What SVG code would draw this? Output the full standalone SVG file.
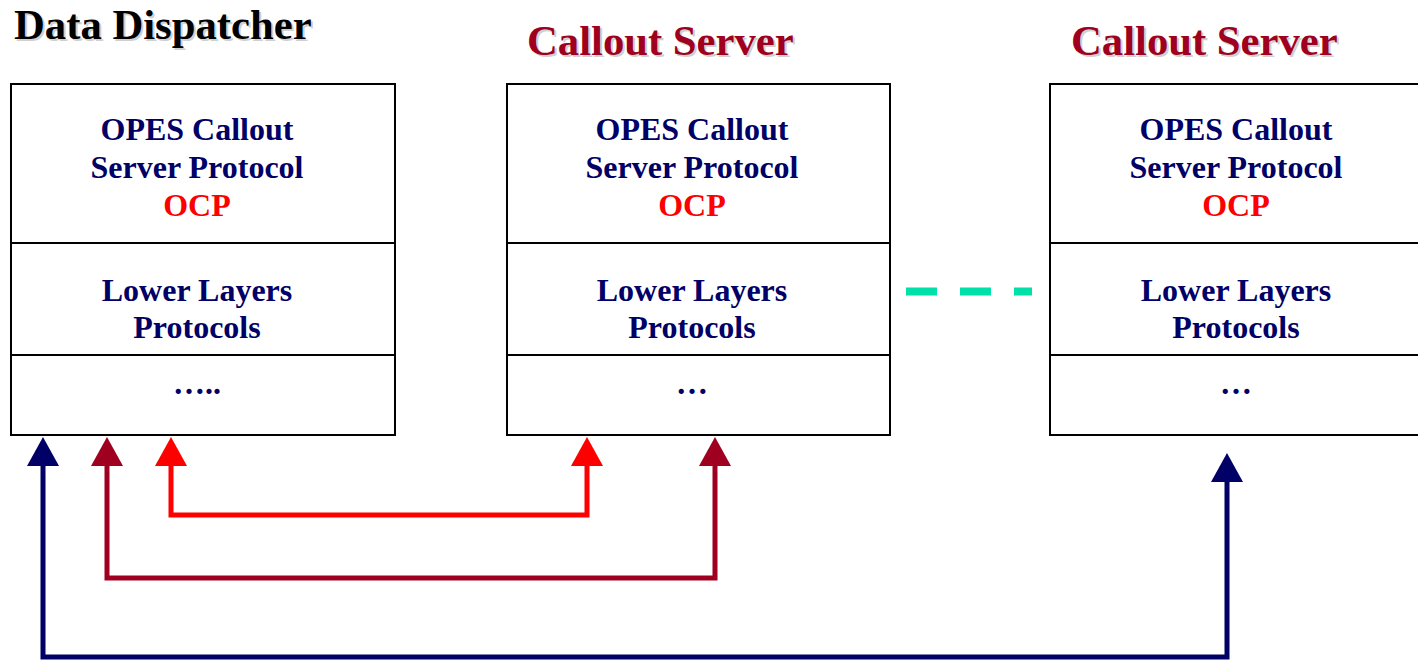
<svg xmlns="http://www.w3.org/2000/svg" width="1418" height="660" viewBox="0 0 1418 660">
<style>
.box{fill:#fff;stroke:#000;stroke-width:2}
.div{stroke:#000;stroke-width:2}
.t{font-family:"Liberation Serif","Times New Roman",serif;font-weight:bold;font-size:32px;fill:#000066;text-anchor:middle}
.ocp{fill:#ff0000}
.title{font-family:"Liberation Serif","Times New Roman",serif;font-weight:bold;font-size:42.7px}
.sh{fill:#d0d0d0}
.cs{fill:#a00020}
.ln{fill:none;stroke-width:5;stroke-linejoin:miter}
</style>
<g id="title-dispatcher">
<text class="title sh" x="16" y="41">Data Dispatcher</text>
<text class="title" x="14" y="39" fill="#000">Data Dispatcher</text>
</g>
<g id="title-server1">
<text class="title sh" x="529" y="57">Callout Server</text>
<text class="title cs" x="527" y="55">Callout Server</text>
</g>
<g id="title-server2">
<text class="title sh" x="1073" y="57">Callout Server</text>
<text class="title cs" x="1071" y="55">Callout Server</text>
</g>
<g id="dispatcher">
<rect class="box" x="11" y="84" width="384" height="351"/>
<line class="div" x1="11" y1="243" x2="395" y2="243"/>
<line class="div" x1="11" y1="355" x2="395" y2="355"/>
<text class="t" x="197" y="140">OPES Callout</text>
<text class="t" x="197" y="178">Server Protocol</text>
<text class="t ocp" x="197" y="216">OCP</text>
<text class="t" x="197" y="301">Lower Layers</text>
<text class="t" x="197" y="338">Protocols</text>
<text class="t" x="197" y="394">…..</text>
</g>
<g id="server1">
<rect class="box" x="507" y="84" width="383" height="351"/>
<line class="div" x1="507" y1="243" x2="890" y2="243"/>
<line class="div" x1="507" y1="355" x2="890" y2="355"/>
<text class="t" x="692" y="140">OPES Callout</text>
<text class="t" x="692" y="178">Server Protocol</text>
<text class="t ocp" x="692" y="216">OCP</text>
<text class="t" x="692" y="301">Lower Layers</text>
<text class="t" x="692" y="338">Protocols</text>
<text class="t" x="692" y="394">…</text>
</g>
<g id="server2">
<rect class="box" x="1050" y="84" width="384" height="351"/>
<line class="div" x1="1050" y1="243" x2="1434" y2="243"/>
<line class="div" x1="1050" y1="355" x2="1434" y2="355"/>
<text class="t" x="1236" y="140">OPES Callout</text>
<text class="t" x="1236" y="178">Server Protocol</text>
<text class="t ocp" x="1236" y="216">OCP</text>
<text class="t" x="1236" y="301">Lower Layers</text>
<text class="t" x="1236" y="338">Protocols</text>
<text class="t" x="1236" y="394">…</text>
</g>
<g id="connectors">
<line x1="906" y1="291.5" x2="1032" y2="291.5" stroke="#00e0a8" stroke-width="8" stroke-dasharray="31,23"/>
<polyline class="ln" stroke="#ff0000" points="171,464 171,515 587,515 587,464"/>
<path d="M155,466 L171,437 L187,466 Z" fill="#ff0000"/>
<path d="M571,466 L587,437 L603,466 Z" fill="#ff0000"/>
<polyline class="ln" stroke="#a00020" points="107,464 107,578 715,578 715,464"/>
<path d="M91,466 L107,437 L123,466 Z" fill="#a00020"/>
<path d="M699,466 L715,437 L731,466 Z" fill="#a00020"/>
<polyline class="ln" stroke="#000066" points="43,464 43,657 1227,657 1227,480"/>
<path d="M27,466 L43,437 L59,466 Z" fill="#000066"/>
<path d="M1211,482 L1227,453 L1243,482 Z" fill="#000066"/>
</g>
</svg>
